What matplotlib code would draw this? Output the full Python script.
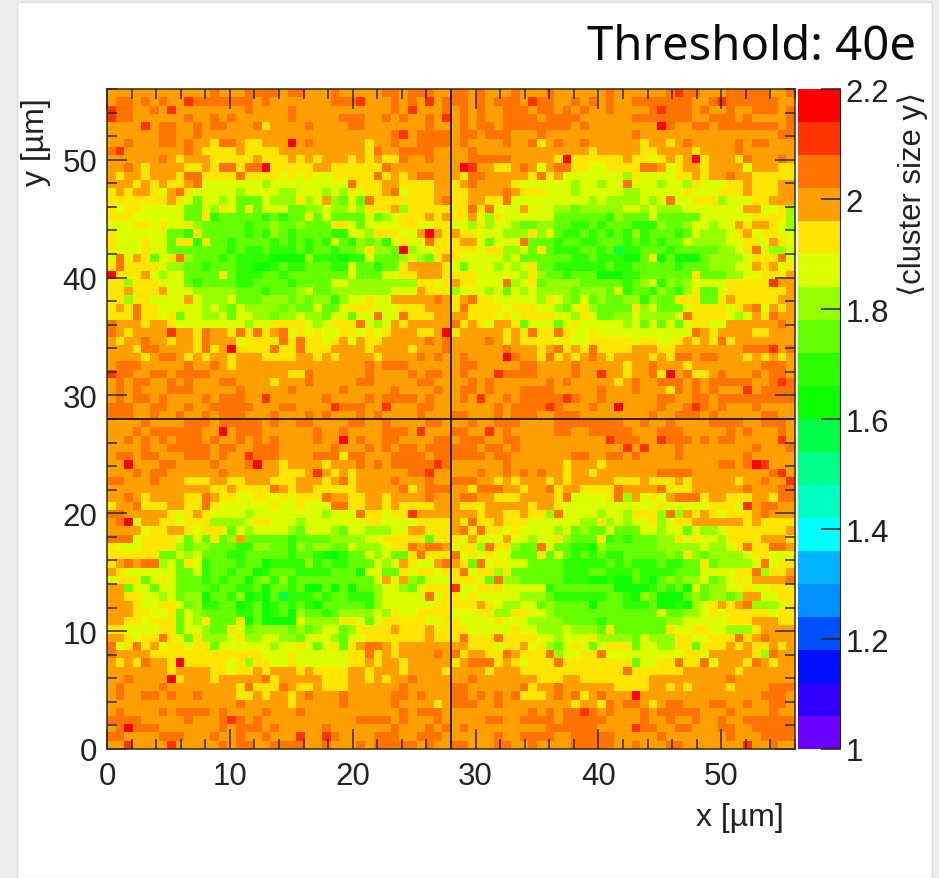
import numpy as np
import matplotlib
matplotlib.use("Agg")
import matplotlib.pyplot as plt
from matplotlib.colors import ListedColormap, BoundaryNorm
from matplotlib.patches import Rectangle
from matplotlib.ticker import MultipleLocator

W, H = 939, 879

# colour band index per cell (0 = top band, 2.14-2.2)
top_left = [
"3333333333 3323332222 3223332333 3322322233",
"3223232331 2222222323 3333332221 3332323132",
"1223323133 3333332333 3233333333 3332313332",
"1223333332 3323233333 3233333222 3323233231",
"3333132233 2322333243 3332333322 3333333233",
"3333332233 2333333333 3333333333 3332132222",
"3323332232 3342234433 3032333333 4332332222",
"2133333332 3444434444 3333333333 4233222233",
"3333332343 3344444344 4343433343 4344233233",
"3323433334 4342242204 4444334444 4423333333",
"3433433342 2444424444 5454554444 4243432233",
"3334343443 2555555565 5555555524 4433444433",
"4343345324 5555565555 6655565645 4432544433",
"4444444345 7556577756 6646536757 2444444432",
"4544555557 7564574755 5776656656 4443644444",
"4445555557 7487777787 8774757777 5765444343",
"5554454554 6777778776 7767774457 5555445544",
"4555555778 4777778786 7877778855 6444553034",
"4555455744 8477877778 7878785786 7685455244",
"4555455777 7777878878 8878778776 4667065544",
"5253475426 7778788889 9996888988 5777656743",
"4244445667 7877788998 7887778857 7877433334",
"0444356557 7774788877 8777777757 7755443334",
"4464445557 8777788777 7877775566 6666664454",
"4434443555 6666677787 7765776666 6665553444",
"4464455553 5666577766 6767668655 4553333323",
"4342445555 5656756666 7677577544 4555444333",
"4442445475 5665755667 6656675575 5255244433",
"2333433455 5555556554 4445654442 5653433333",
"2343333133 4233424243 2545455445 4543334430",
"3433233433 4233354444 2424454353 4433333232",
"3334223333 4243044442 4424443333 4333343332",
"3333432234 3433433344 4433434333 3433332323",
"3222333332 3323433333 3333333333 2322233333",
"1223322322 2233333333 3442333333 2333323223",
"3232233232 3332233334 3332333332 2333332233",
"3232333222 3333323333 3233333233 3332333323",
"3232232333 3232223313 3333323333 2322223233",
"2223322332 3322222333 2233331222 3313332233",
"2223323323 3232223332 3332323332 3233332333",
]

top_right = [
"2232333233 3233333323 3333321223 3322222332",
"2232322231 2233232323 3222222233 2122222233",
"3232332223 2232323323 3332122232 3323322232",
"3232332222 3222233333 3222222233 2223233332",
"3232232222 2222323333 3333023322 3222222232",
"3223222333 2333333333 3233333333 3333333322",
"3233332332 4323323333 3343343233 3332322333",
"3323333333 3333334333 3344333343 3332333333",
"3322222333 3340444444 3445434304 3334233323",
"3013344323 5322445544 4422354334 3333533344",
"3422333334 2435555555 6455554434 3323344444",
"4323333455 5555655655 2555655645 5544344433",
"4433332344 4555655555 6655555455 5444344433",
"4433442555 5555556566 6656525544 4655544333",
"4424255535 5566766666 5565666555 5555335546",
"4435645555 5577777786 7775777775 5555544446",
"5564655677 6677887877 7888677655 6553433456",
"3445556664 6578878787 8687778756 6654354455",
"4335755527 7787788777 8787877566 6655445345",
"4445446657 478887787a 8877787777 7665425665",
"4555556577 7777887888 9974979997 6666544425",
"5755565654 7788888878 8777778777 6665534354",
"4445555564 6778777999 8877777747 7766554443",
"3445552654 7666677777 8765867655 5544444133",
"6555657565 6666766675 8778678647 7544444443",
"4324455555 6456757677 6686774447 7434444433",
"4244445444 5567546777 7465777544 4454325343",
"3344454544 4455645776 6566665244 4456534233",
"2434533475 5575455555 6575757544 5533333323",
"4333334342 4424554555 5555555523 4333344333",
"3333234344 4454554444 4544554343 4243333333",
"3333332333 4324342444 4333443333 3333222132",
"3233330233 4243432343 3334342232 2333434343",
"3223333322 3333233333 4332333433 3333332223",
"3233312222 3333233133 4332403244 3233323223",
"3323233333 3232333334 3233222323 2222233212",
"3223233322 2233333233 3233342323 2333132222",
"3231332322 2221233233 3333223322 3222222222",
"3333323222 2123332330 3333233212 3233323333",
"2233323222 3322233333 3332332223 2333332233",
]

bottom_left = [
"3333233332 2232222232 3322333322 3323333223",
"3332322222 2330322233 3333233233 3322231333",
"3323232322 2323323232 3333233032 3322333322",
"3333233222 2232233222 3333332333 2323223222",
"3223223332 2232331222 3333222422 3332222322",
"3303332233 3323332033 4333343332 3232222212",
"3332322333 3332333333 4443134343 3333322133",
"2233323334 4433443334 4433343243 3332333233",
"3333333333 3344344442 3433444443 3333243222",
"3323433334 4234455445 4544423344 3343333233",
"4332444334 4245555554 5545552244 3343444433",
"2233333454 3455556555 5555565552 4454413333",
"3205334454 4466665445 5565555555 4455554444",
"3333544334 5444756555 5675556755 6665533444",
"2225444457 5747637777 7877776666 5544444744",
"4555444467 6677788667 7867667756 6654423223",
"4444447756 5777887777 7877899877 5657742444",
"4323226574 5877787798 8886878877 7565345532",
"3455555577 5877877987 7788887779 5577454454",
"5444754577 7878779768 6877777777 7535367555",
"3375575577 7787788797 7879979797 7655675444",
"3344556576 6977869897 a888787788 8655555254",
"3334554457 6887798798 7878977777 8655555544",
"3334455475 6777788798 7967787666 6564554444",
"3344544475 6477749799 9956666445 7544444554",
"4455554475 5677457666 6767655764 4443444344",
"3345442457 4666546655 6675556755 4444444344",
"2542435445 4475555556 5545754743 2234333333",
"2333344444 4444444455 5455555544 2434333323",
"3434233404 4444546445 5455555544 3433433333",
"3333333433 3344544343 3343444433 4333433334",
"3323333043 3343333324 3333344433 4343323333",
"3233332333 3333342444 2344344433 3333233333",
"3233223233 2333344343 3432333233 3332232333",
"3333333333 3333323333 3433333233 3332333343",
"3233332322 2232333323 3323333333 3333232223",
"2222333332 3332123233 3333333332 2223233323",
"3202223333 3332322232 3333323333 3332333232",
"2233332223 3323323323 3313312333 3222332223",
"3313333133 3332322332 2223323332 3222223233",
]

bottom_right = [
"3323322233 3322222222 3323323333 2222332223",
"2233132333 3322332222 2333222333 3323233323",
"3222332233 3333333312 2233122232 3223333313",
"2223223233 3333333333 1313332333 3333323332",
"2222322333 3333223322 3233332333 3333233333",
"3333332333 3334333433 3333333333 3223201333",
"3332332323 2334334333 3333222233 3333333213",
"2223343433 3434333334 4434443433 3334332331",
"3342223343 3243344442 3333244433 3333233322",
"3223344433 3342555542 6354532224 3344433422",
"3444333334 3345555555 5555455555 4445132233",
"3334334434 4625555655 6444626343 4544432333",
"3424434445 5555566465 6554654433 3333434444",
"3242445455 5565767757 7755655756 6544444443",
"4535553556 5546777487 8777664545 5644443334",
"5446244677 2577889677 7777666665 6654244223",
"2545455777 4757878788 7777767467 6666544555",
"3472545557 7778888878 7888788774 7666652544",
"4254464777 7778887788 8788887775 5554426443",
"4445726677 7778889989 9789767665 7654533332",
"1554445555 5877777779 9998787957 6655455444",
"4545555566 6788888877 8967999767 6676335544",
"4443456655 7677779777 8887998965 4343266654",
"5554466445 5677777777 7777577665 4544444544",
"4555545556 6667777877 7777766555 5544433344",
"4455555455 6665666747 7777745544 5566643333",
"4244424444 5565554666 6756664455 4442432333",
"3344454435 4675457544 4755664474 4434344343",
"2433442344 4265544255 5555555445 3333346233",
"4322243454 4424444444 4755442442 5333423433",
"3333433344 4444444444 2444444333 3334333333",
"3323333333 4443344444 4443333333 3323333333",
"2233333324 3323333334 4443343433 3343333222",
"2232323244 4323243233 3033333333 3333332223",
"2223323333 3333433423 2234322333 2233233223",
"3333333332 3232212323 3323222223 3323333233",
"3333223322 2232222233 3323323323 3233222222",
"3233333333 3222222333 3122332233 3223322222",
"3333323322 2233222223 3333233333 3323332222",
"2233322332 3333222223 3233322333 3333133233",
]

band_colors = ["#ff0000", "#ff3300", "#ff7300", "#ffa000", "#ffe600", "#dcff00", "#96ff00",
               "#64ff00", "#2eff00", "#0cff00", "#00ff46", "#00ff8a", "#00ffc0", "#00ffff",
               "#00b4ff", "#0090ff", "#0050ff", "#0010ff", "#3000ff", "#6a00ff"]
x_ticks = [0, 10, 20, 30, 40, 50]
y_ticks = [0, 10, 20, 30, 40, 50]
z_ticks = [1, 1.2, 1.4, 1.6, 1.8, 2, 2.2]
z_tick_labels = ["1", "1.2", "1.4", "1.6", "1.8", "2", "2.2"]
x_max = y_max = 56
pixel_boundary = 28
z_min, z_max = 1.0, 2.2
title = "Threshold: 40e"
x_label = "x [\u00b5m]"
y_label = "y [\u00b5m]"
z_label = "\u27e8cluster size y\u27e9"

plt.rcParams["font.family"] = ["Liberation Sans", "DejaVu Sans"]


def parse(rows):
    return [[int(c, 16) for c in r.replace(" ", "").ljust(40, "3")[:40]] for r in rows]


bands = np.array([l + r for l, r in zip(parse(top_left), parse(top_right))]
                 + [l + r for l, r in zip(parse(bottom_left), parse(bottom_right))])
n_band = len(band_colors)
step = (z_max - z_min) / n_band
values = z_max - (bands + 0.5) * step       # band centre for each cell

fig = plt.figure(figsize=(W / 100, H / 100), dpi=100, facecolor="#ececec")
fig.add_artist(Rectangle((17 / W, 0), (932 - 17) / W, (H - 3) / H, transform=fig.transFigure,
                         facecolor="white", edgecolor="#dcdcdc", linewidth=1.0, zorder=-5))

ax = fig.add_axes([107 / W, (H - 750) / H, (795 - 107) / W, (750 - 90) / H])
edges_x = np.linspace(0, x_max, bands.shape[1] + 1)
edges_y = np.linspace(y_max, 0, bands.shape[0] + 1)
cmap = ListedColormap(band_colors[::-1])
norm = BoundaryNorm(np.linspace(z_min, z_max, n_band + 1), n_band)
mesh = ax.pcolormesh(edges_x, edges_y, values, cmap=cmap, norm=norm, rasterized=True)

frame = "#2e2a12"
ax.axvline(pixel_boundary, color="#1c1a0a", lw=1.3)
ax.axhline(pixel_boundary, color="#1c1a0a", lw=1.3)
ax.set_xlim(0, x_max)
ax.set_ylim(0, y_max)
ax.set_xticks(x_ticks)
ax.set_yticks(y_ticks)
ax.xaxis.set_minor_locator(MultipleLocator(2))
ax.yaxis.set_minor_locator(MultipleLocator(2))
ax.tick_params(which="major", direction="in", top=True, right=True, length=14.4, width=1.1,
               color=frame, labelsize=22.5, labelcolor="#222222")
ax.tick_params(which="minor", direction="in", top=True, right=True, length=7.2, width=1.1, color=frame)
ax.tick_params(axis="x", which="major", pad=9)
ax.tick_params(axis="y", which="major", pad=7)
for s in ax.spines.values():
    s.set_color(frame)
    s.set_linewidth(1.1)

cax = fig.add_axes([798 / W, (H - 750) / H, (841 - 798) / W, (750 - 90) / H])
cb = fig.colorbar(mesh, cax=cax, ticks=z_ticks, spacing="proportional", drawedges=False)
cb.ax.minorticks_off()
cb.set_ticklabels(z_tick_labels)
cb.outline.set_visible(False)
cb.ax.tick_params(which="both", direction="in", right=True, left=False, length=14.4, width=1.1,
                  color="#222222", labelsize=22.5, labelcolor="#222222", pad=3.5)
cax.axvline(1, color="#222222", lw=1.5)

fig.text(916 / W, 1 - 60 / H, title, ha="right", va="baseline", fontsize=34,
         family=["Noto Sans"], color="#0a0a0a")
fig.text(784 / W, 1 - 826 / H, x_label, ha="right", va="baseline", fontsize=23, color="#222222")
fig.text(51 / W, 1 - 98 / H, y_label, ha="right", va="top", rotation=90, fontsize=23, color="#222222")
fig.text(928 / W, 1 - 92 / H, z_label, ha="right", va="top", rotation=90, fontsize=22.3, color="#222222")

fig.savefig("out.png", dpi=100, facecolor=fig.get_facecolor())
